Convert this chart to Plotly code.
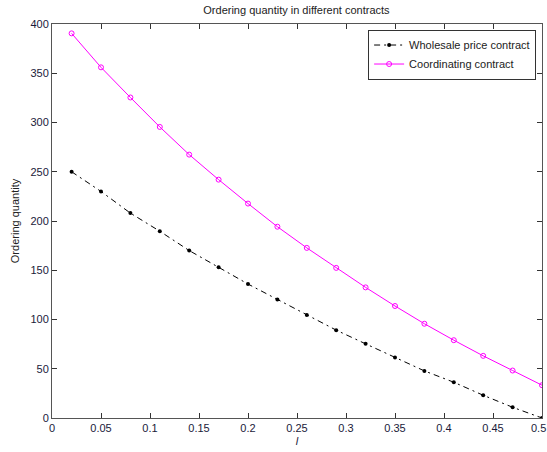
import plotly.graph_objects as go

x_vals = [0.02, 0.05, 0.08, 0.11, 0.14, 0.17, 0.20, 0.23, 0.26, 0.29, 0.32, 0.35, 0.38, 0.41, 0.44, 0.47, 0.50]
wholesale = [250, 230, 208, 189.6, 170, 153, 136, 120.4, 104.5, 89.2, 75.3, 61.4, 47.8, 36.3, 23.1, 10.9, 0]
coordinating = [390.5, 356, 325.4, 295.5, 267.4, 242, 217.7, 194.2, 172.7, 152.4, 132.6, 113.7, 95.7, 79, 63.1, 48.2, 33.3]

x_ticks = [0, 0.05, 0.1, 0.15, 0.2, 0.25, 0.3, 0.35, 0.4, 0.45, 0.5]
x_tick_text = ["0", "0.05", "0.1", "0.15", "0.2", "0.25", "0.3", "0.35", "0.4", "0.45", "0.5"]
y_ticks = [0, 50, 100, 150, 200, 250, 300, 350, 400]

FONT = "Liberation Sans"
TXT = "#1a1a3a"

fig = go.Figure()
fig.add_trace(go.Scatter(
    x=x_vals, y=wholesale, mode="lines+markers",
    name="Wholesale price contract",
    line=dict(color="black", width=1, dash="6px,4px,2px,4px"),
    marker=dict(symbol="circle", size=4, color="black"),
))
fig.add_trace(go.Scatter(
    x=x_vals, y=coordinating, mode="lines+markers",
    name="Coordinating contract",
    line=dict(color="#FF00FF", width=1),
    marker=dict(symbol="circle-open", size=5, color="#FF00FF", line=dict(width=1)),
))

axis_common = dict(
    showgrid=False, zeroline=False, showline=True, linecolor="#555555", linewidth=1,
    mirror="allticks", ticks="inside", ticklen=5, tickcolor="#333333",
    tickfont=dict(family=FONT, size=11, color=TXT),
)

fig.update_layout(
    width=547, height=452,
    margin=dict(l=52, r=5, t=24, b=34),
    paper_bgcolor="white", plot_bgcolor="white",
    title=dict(text="Ordering quantity in different contracts", x=0.542, xanchor="center",
               y=0.985, yanchor="top", font=dict(family=FONT, size=11, color="#222222")),
    xaxis=dict(range=[0, 0.5], tickvals=x_ticks, ticktext=x_tick_text,
               title=dict(text="<i>l</i>", font=dict(family=FONT, size=11, color=TXT), standoff=4),
               **axis_common),
    yaxis=dict(range=[0, 400], tickvals=y_ticks,
               title=dict(text="Ordering quantity", font=dict(family=FONT, size=11, color="#222222"), standoff=8),
               **axis_common),
    legend=dict(x=0.988, y=0.986, xanchor="right", yanchor="top",
                bgcolor="white", bordercolor="#333333", borderwidth=1,
                font=dict(family=FONT, size=11, color="#222222"),
                tracegroupgap=0, itemwidth=30, entrywidthmode="pixels"),
    showlegend=True,
)

fig.add_annotation(x=x_ticks[-1], y=0, xref="x", yref="paper", text=x_tick_text[-1],
                   showarrow=False, yanchor="top", xanchor="center", yshift=-2, xshift=-4,
                   font=dict(family=FONT, size=11, color=TXT))

fig.write_html("out.html")
